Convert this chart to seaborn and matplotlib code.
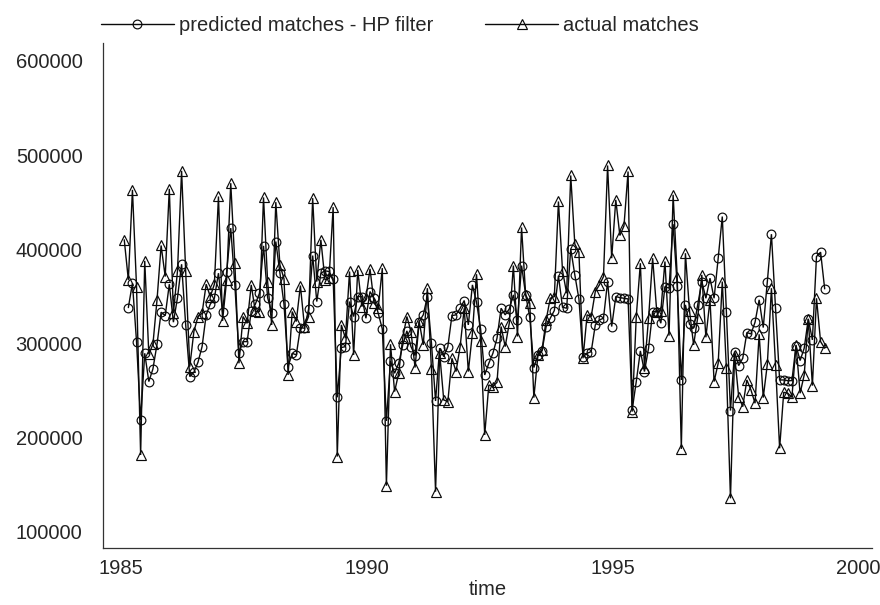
import matplotlib
matplotlib.use("Agg")
import matplotlib.pyplot as plt
import numpy as np
import pandas as pd
import seaborn as sns

# Monthly series, 1985m1 .. 1999m4 (172 months).
actual_matches = [
    410000, 367500, 463000, 360400, 181700, 387700, 288600, 299200, 346300, 404000,
    371000, 464100, 332100, 377100, 483200, 376400, 275500, 312700, 328600, 332100,
    362900, 349800, 362900, 456000, 324000, 367500, 470100, 385200, 279000, 328600,
    321500, 362200, 334000, 333900, 455000, 365700, 319700, 450000, 383400, 368600,
    266600, 333900, 323300, 361500, 318000, 328600, 454200, 365700, 410000, 367500,
    369300, 444700, 180000, 319700, 305600, 376400, 287900, 378100, 339200, 348000,
    379200, 342700, 337400, 380000, 149100, 299200, 249000, 268400, 306300, 328600,
    312700, 274500, 323300, 298500, 358700, 273000, 142800, 289700, 240100, 238300,
    284300, 270200, 296700, 337400, 270200, 310900, 373500, 302700, 203000, 256000,
    254300, 258800, 318000, 296700, 321500, 382700, 307400, 423100, 351600, 342700,
    242600, 287900, 293200, 325000, 348000, 349800, 450700, 377100, 353300, 478300,
    405400, 396900, 284300, 330400, 328600, 355100, 362200, 371000, 488900, 390500,
    452400, 414600, 424800, 482500, 227700, 328600, 385200, 273700, 326800, 390500,
    333900, 334600, 387000, 308400, 457800, 371000, 188100, 395800, 334600, 298500,
    327500, 372800, 306600, 346300, 259600, 279000, 365700, 273700, 135700, 287900,
    243700, 233000, 261300, 250700, 236600, 309800, 242600, 278000, 358700, 277300,
    188800, 248200, 247200, 242900, 298500, 247200, 266600, 326100, 255300, 348000,
    302000, 295000,
]

# HP-filter prediction starts one month later.
predicted_matches = [
    np.nan, 338100, 364000, 302000, 218900, 289600, 259600, 273000, 299200, 333200,
    329600, 362900, 322600, 348700, 384100, 319700, 264900, 269500, 280100, 296700,
    330400, 341700, 348000, 374600, 333200, 375700, 422400, 362200, 289600, 302000,
    302000, 334000, 341700, 353300, 403600, 348700, 332800, 408200, 375300, 341700,
    275500, 289600, 287900, 316900, 316200, 336400, 393300, 344500, 374600, 377100,
    376400, 368600, 242900, 295700, 296700, 344500, 328600, 349800, 349800, 326800,
    355100, 348000, 332100, 315500, 217800, 281500, 268400, 279000, 298500, 313400,
    296700, 287200, 323300, 330400, 349800, 300300, 239000, 295000, 286100, 296700,
    329600, 330400, 337400, 345600, 319700, 362200, 343800, 315500, 266600, 279000,
    289600, 305600, 337400, 330400, 336700, 351600, 325000, 382700, 351600, 327900,
    274500, 287900, 292100, 318000, 326800, 335000, 371800, 338500, 337400, 400400,
    372800, 347300, 286100, 289600, 291400, 319700, 325000, 326800, 365700, 318000,
    349800, 348700, 348000, 347300, 229500, 259600, 292100, 270200, 295000, 333900,
    333900, 321500, 360400, 358700, 426600, 361500, 261300, 341000, 320400, 316200,
    341000, 365700, 348000, 369300, 348000, 390500, 434700, 333900, 228800, 291400,
    276600, 284300, 311600, 310200, 322600, 346300, 316900, 365700, 416000, 337400,
    261300, 261300, 260600, 260600, 297800, 281900, 295000, 326100, 303800, 392300,
    396900, 358000,
]

x_ticks = [1985, 1990, 1995, 2000]
y_ticks = [100000, 200000, 300000, 400000, 500000, 600000]

time = 1985 + (np.arange(len(actual_matches)) + 0.75) / 12
df = pd.DataFrame({
    "time": time,
    "actual": actual_matches,
    "predicted": predicted_matches,
})

sns.set_style("white")
plt.rcParams["font.family"] = ["Liberation Sans", "DejaVu Sans"]
FS = 14.5

fig = plt.figure(figsize=(8.8, 6.05), dpi=100)
ax = fig.add_axes([0.1167, 0.0942, 0.8742, 0.8342])

line_style = dict(color="#0a0a0a", lw=1.0, mfc="none", mec="#0a0a0a", mew=0.85)

pred = df.dropna(subset=["predicted"])
sns.lineplot(data=pred, x="time", y="predicted", marker="o", ms=6.3,
             label="predicted matches - HP filter", ax=ax, **line_style)
sns.lineplot(data=df, x="time", y="actual", marker="^", ms=6.8,
             label="actual matches", ax=ax, **line_style)
for ln in ax.lines:
    ln.set_solid_joinstyle("miter")

ax.set_xlim(1984.624, 2000.275)
ax.set_ylim(83000, 618500)
ax.set_xticks(x_ticks)
ax.set_yticks(y_ticks)
ax.set_yticklabels([str(v) for v in y_ticks])
ax.tick_params(axis="y", direction="out", length=8.5, width=0.9,
               labelsize=FS, color="#333333", pad=6)
ax.tick_params(axis="x", direction="out", length=7, width=0.9,
               labelsize=FS, color="#333333", pad=1)
ax.set_xlabel("time", fontsize=FS, labelpad=1)
ax.set_ylabel("")

for side in ["top", "right"]:
    ax.spines[side].set_visible(False)
for side in ["left", "bottom"]:
    ax.spines[side].set_color("#333333")
    ax.spines[side].set_linewidth(0.9)

leg = ax.legend(loc="lower left", bbox_to_anchor=(-0.01, 1.005), ncol=2,
                frameon=False, fontsize=FS, handlelength=3.6,
                handletextpad=0.25, columnspacing=2.6, borderaxespad=0.3,
                borderpad=0)

fig.savefig("out.png", dpi=100)
